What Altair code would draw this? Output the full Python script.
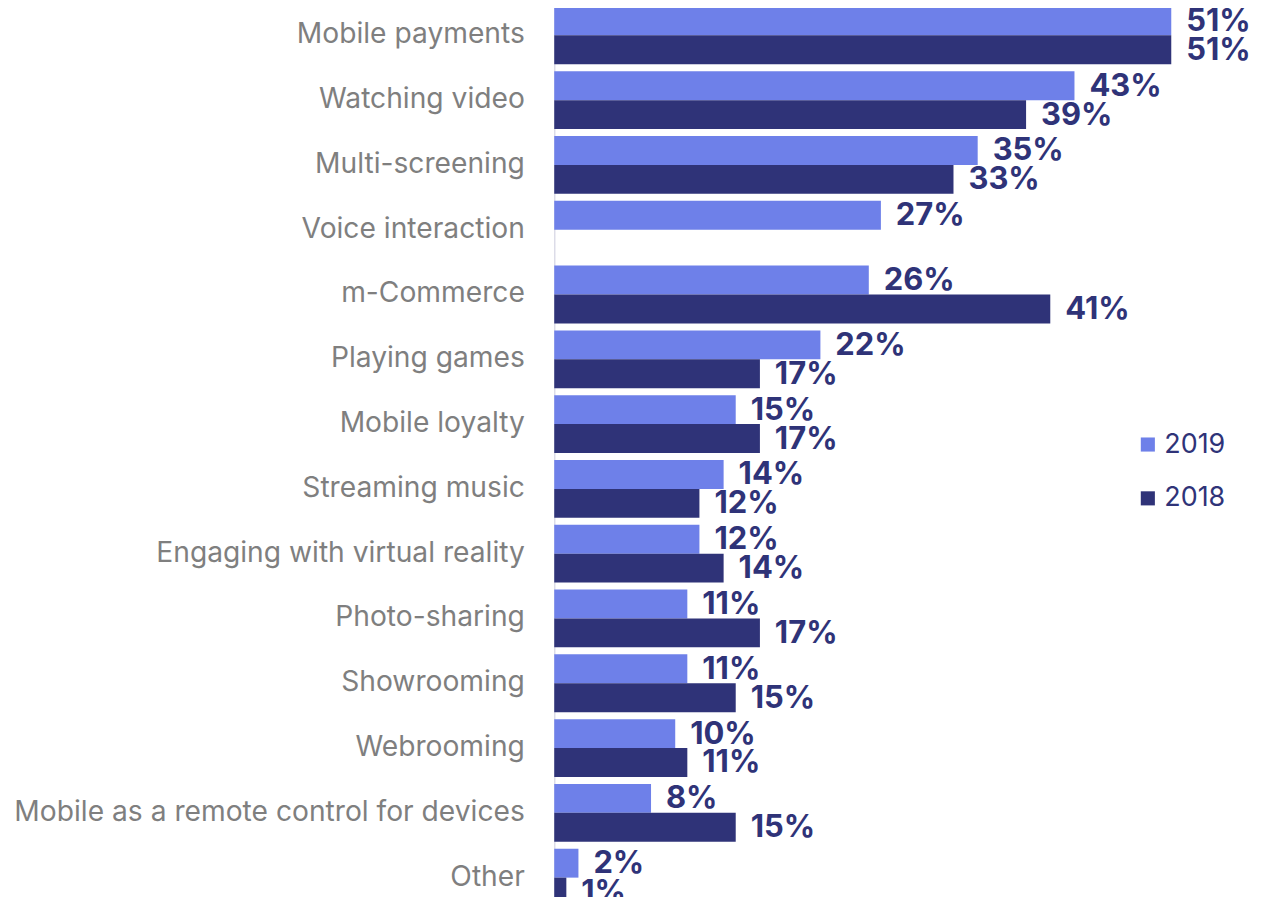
import altair as alt
import pandas as pd

categories = [
    "Mobile payments ", "Watching video ", "Multi-screening", "Voice interaction",
    "m-Commerce", "Playing games ", "Mobile loyalty", "Streaming music ",
    "Engaging with virtual reality ", "Photo-sharing ", "Showrooming", "Webrooming",
    "Mobile as a remote control for devices", "Other",
]
values_2019 = [51, 43, 35, 27, 26, 22, 15, 14, 12, 11, 11, 10, 8, 2]
values_2018 = [51, 39, 33, None, 41, 17, 17, 12, 14, 17, 15, 11, 15, 1]
years = ["2019", "2018"]
colors = ["#6e80e9", "#2f3378"]

rows = []
for c, v19, v18 in zip(categories, values_2019, values_2018):
    for y, v in zip(years, [v19, v18]):
        if v is not None:
            rows.append({"category": c, "year": y, "value": v, "label": f"{v}%"})
df = pd.DataFrame(rows)

y_enc = alt.Y("category:N", sort=categories,
              scale=alt.Scale(range=[-6.5, 903.5], paddingInner=0.108, paddingOuter=0.054),
              axis=alt.Axis(title=None, ticks=False, labelPadding=30, labelFontSize=28.3,
                            labelColor="#7f7f7f", labelFont="Inter", labelLimit=0,
                            domainColor="#dcdce8", domainWidth=1.5, grid=False))
yoff = alt.YOffset("year:N", sort=years, scale=alt.Scale(paddingInner=0, paddingOuter=0))
x_enc = alt.X("value:Q", scale=alt.Scale(domain=[0, 51], nice=False), axis=None)

base = alt.Chart(df)
bars = base.mark_bar().encode(
    x=x_enc, y=y_enc, yOffset=yoff,
    color=alt.Color("year:N", sort=years, scale=alt.Scale(domain=years, range=colors),
                    legend=alt.Legend(title=None, orient="none", legendX=582, legendY=423,
                                      symbolType="square", symbolSize=200, symbolStrokeWidth=0,
                                      labelFontSize=27, labelColor="#2f3378", labelFont="Inter",
                                      rowPadding=26, labelOffset=3)),
)
text = base.mark_text(align="left", baseline="middle", dx=15, dy=1, font="Inter",
                      fontWeight="bold", fontSize=31, color="#2f3378").encode(
    x=x_enc, y=y_enc, yOffset=yoff, text="label:N",
)

chart = (bars + text).properties(
    width=619, height=889,
    autosize=alt.AutoSizeParams(type="none"),
    padding={"left": 548, "top": 0, "right": 82, "bottom": 0},
).configure_view(stroke=None)

chart.save("out.html", embed_options={"renderer": "svg", "actions": False})
